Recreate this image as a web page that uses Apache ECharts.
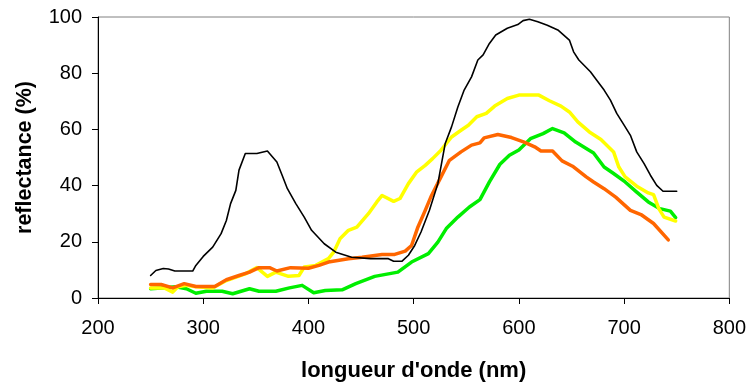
<!DOCTYPE html>
<html><head><meta charset="utf-8">
<script src="https://cdn.jsdelivr.net/npm/echarts@6/dist/echarts.min.js"></script>
<style>html,body{margin:0;padding:0;background:#fff}#c{width:749px;height:388px}</style>
</head><body><div id="c"></div>
<script>
const xTicks = [200, 300, 400, 500, 600, 700, 800];
const yTicks = [0, 20, 40, 60, 80, 100];

const blackX = [250,255,262,267,273,290,293,300,309,317,322,326,331,334,340,351,361,370,375,380,388,396,403,415,426,441,459,476,481,489,495,501,507,515,523,530,536,542,548,555,561,566,572,578,589,599,604,610,618,627,637,648,652,657,668,674,681,687,693,700,706,712,719,725,731,737,750];
const blackY = [8,9.8,10.5,10.3,9.6,9.6,11.6,14.8,18.1,22.9,27.6,33.6,38.3,45.5,51.4,51.4,52.3,48.4,43.7,38.9,33.6,28.8,24.1,19.3,16.3,14.5,14,14,13.1,13.1,15.2,18.7,23.5,31.2,40.7,55,60.9,68,74,78.7,84.7,86.5,90.6,93.6,96,97.3,98.7,99.2,98.3,97.1,95.4,91.8,87.6,84.7,80.5,77.5,74,70.4,65.7,61.5,57.9,52,47.8,43.7,40.1,38,38];

const yellowX = [250,263,271,276,284,293,309,322,340,351,361,369,381,391,396,400,407,419,424,430,438,446,457,465,470,481,487,495,503,511,518,526,536,545,552,560,569,577,589,600,619,629,640,648,656,667,678,690,695,701,712,723,728,733,738,749];
const yellowY = [3.6,3.6,2.1,4,4.5,4,3.6,6.2,8.6,10.8,7.7,9.2,7.7,8,11,11.2,11.6,14,16.3,21.1,24.1,25.2,30,34.2,36.5,34.4,35.4,40.7,44.9,47.2,49.6,52.6,57.3,59.7,61.5,64.5,65.7,68.3,71,72.2,72.2,70.2,68.3,66.2,62.7,59.1,56.4,52,46.6,43.1,39.8,37.4,36.8,31.8,28.8,27.4];

const orangeX = [250,260,271,282,293,311,322,334,344,353,363,370,383,400,410,419,438,451,470,482,492,498,504,511,517,526,534,545,555,563,567,580,593,605,615,621,632,641,651,664,671,681,692,706,716,728,742];
const orangeY = [4.8,4.8,3.6,5.1,4.1,4.1,6.5,8,9.2,10.8,10.8,9.6,10.8,10.6,11.6,12.8,14,14.5,15.5,15.5,16.7,18.7,25.2,31.2,36.5,43.1,49,52,54.4,55.2,57,58.2,57.1,55.5,53.8,52.3,52.3,48.8,46.9,43.1,41.3,38.9,35.9,31.2,29.7,26.5,20.7];

const greenX = [250,260,274,284,293,303,318,328,344,353,369,382,394,405,416,432,445,463,485,498,514,523,531,542,553,563,572,582,591,600,611,623,632,643,654,664,671,681,690,701,712,723,734,744,749];
const greenY = [3.3,3.6,4,3.3,1.7,2.4,2.4,1.5,3.3,2.4,2.4,3.6,4.5,1.9,2.7,2.9,5.1,7.7,9.2,12.8,15.8,19.9,24.7,28.8,32.4,35,41.3,47.6,50.8,52.7,56.7,58.5,60.3,58.8,55.5,53.2,51.6,46.6,44.3,41.3,37.7,34.2,31.8,30.9,28.6];

const pairs = (xs, ys) => xs.map((x, i) => [x, ys[i]]);
const font = '"Liberation Sans", Arial, sans-serif';

const chart = echarts.init(document.getElementById('c'), null, {renderer: 'canvas'});
const mkLine = (name, xs, ys, color, width, z) => ({
  name, type: 'line', data: pairs(xs, ys), showSymbol: false, symbol: 'none',
  lineStyle: {color, width, join: 'round', cap: 'round'}, z, animation: false
});
chart.setOption({
  animation: false,
  grid: {left: 98, right: 16, top: 17, bottom: 90, show: true, borderColor: '#808080', borderWidth: 1, backgroundColor: 'transparent'},
  xAxis: {
    type: 'value', min: xTicks[0], max: xTicks[xTicks.length - 1], interval: 100,
    name: "longueur d'onde (nm)", nameLocation: 'middle', nameGap: 62,
    nameTextStyle: {fontFamily: font, fontSize: 22, fontWeight: 'bold', color: '#000'},
    axisLine: {show: true, lineStyle: {color: '#000', width: 1}},
    axisTick: {show: true, length: 6, inside: false, lineStyle: {color: '#000'}},
    axisLabel: {fontFamily: font, fontSize: 20, color: '#000', margin: 20},
    splitLine: {show: false}
  },
  yAxis: {
    type: 'value', min: yTicks[0], max: yTicks[yTicks.length - 1], interval: 20,
    name: 'reflectance (%)', nameLocation: 'middle', nameGap: 62,
    nameTextStyle: {fontFamily: font, fontSize: 21.5, fontWeight: 'bold', color: '#000'},
    axisLine: {show: true, lineStyle: {color: '#000', width: 1}},
    axisTick: {show: true, length: 6, inside: false, lineStyle: {color: '#000'}},
    axisLabel: {fontFamily: font, fontSize: 20, color: '#000', margin: 16},
    splitLine: {show: false}
  },
  series: [
    mkLine('green', greenX, greenY, '#00ee00', 3.5, 2),
    mkLine('yellow', yellowX, yellowY, '#ffff00', 3.5, 3),
    mkLine('orange', orangeX, orangeY, '#ff6600', 3.5, 4),
    mkLine('black', blackX, blackY, '#000000', 1.6, 5)
  ]
});
</script></body></html>
